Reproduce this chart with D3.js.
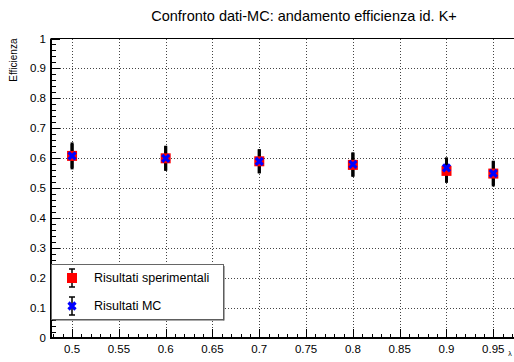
<!DOCTYPE html>
<html>
<head>
<meta charset="utf-8">
<script src="https://cdn.jsdelivr.net/npm/d3@7"></script>
<style>
  body { margin:0; background:#fff; }
  svg { display:block; font-family:"Liberation Sans", Arial, sans-serif; }
  .grid line { stroke:#444; stroke-width:1; stroke-dasharray:1,2; shape-rendering:crispEdges; }
</style>
</head>
<body>
<svg width="514" height="362"></svg>
<script>
const lambda   = [0.5, 0.6, 0.7, 0.8, 0.9, 0.95];
const effExp   = [0.608, 0.600, 0.590, 0.578, 0.558, 0.549];
const errExp   = [0.045, 0.042, 0.040, 0.040, 0.040, 0.043];
const effMC    = [0.608, 0.600, 0.590, 0.580, 0.568, 0.550];
const errMC    = [0.040, 0.040, 0.040, 0.040, 0.035, 0.040];
const xTicks   = [0.5, 0.55, 0.6, 0.65, 0.7, 0.75, 0.8, 0.85, 0.9, 0.95];
const yTicks   = [0, 0.1, 0.2, 0.3, 0.4, 0.5, 0.6, 0.7, 0.8, 0.9, 1];
const legendLabels = ["Risultati sperimentali", "Risultati MC"];

const M = { top:38.5, left:51, bottom:338 };
const svg = d3.select('svg');

const x = d3.scaleLinear().domain([0.4775, 0.9735]).range([M.left, 515.3]);
const y = d3.scaleLinear().domain([0, 1]).range([M.bottom, M.top]);

// title
svg.append('text')
  .attr('x', 304).attr('y', 21)
  .attr('text-anchor', 'middle')
  .attr('font-size', 14.5)
  .text('Confronto dati-MC: andamento efficienza id. K+');

// grid
const grid = svg.append('g').attr('class', 'grid');
grid.selectAll('line.v')
  .data(xTicks)
  .join('line')
    .attr('x1', d => Math.round(x(d)) + 0.5).attr('x2', d => Math.round(x(d)) + 0.5)
    .attr('y1', M.top).attr('y2', M.bottom);
grid.selectAll('line.h')
  .data(yTicks.slice(1, -1))
  .join('line')
    .attr('class', 'h')
    .attr('x1', M.left).attr('x2', 514)
    .attr('y1', d => Math.round(y(d)) + 0.5).attr('y2', d => Math.round(y(d)) + 0.5);

// frame
svg.append('line').attr('x1', M.left).attr('x2', 514).attr('y1', M.top).attr('y2', M.top)
  .attr('stroke', '#000').attr('stroke-width', 1);

// axes (ticks inside)
const yMinor = d3.range(0, 1.0001, 0.02);
const xMinor = d3.range(0.48, 0.975, 0.01);

svg.append('g').attr('transform', `translate(${M.left},0)`)
  .call(d3.axisRight(y).tickValues(yTicks).tickSize(9).tickFormat(''))
  .select('.domain').remove();
svg.append('g').attr('transform', `translate(${M.left},0)`)
  .call(d3.axisRight(y).tickValues(yMinor).tickSize(5).tickFormat(''))
  .select('.domain').remove();
svg.append('line').attr('x1', M.left).attr('x2', M.left).attr('y1', M.top).attr('y2', M.bottom + 1)
  .attr('stroke', '#000').attr('stroke-width', 2);

svg.append('g').attr('transform', `translate(0,${M.bottom})`)
  .call(d3.axisTop(x).tickValues(xTicks).tickSize(9).tickFormat(''))
  .select('.domain').remove();
svg.append('g').attr('transform', `translate(0,${M.bottom})`)
  .call(d3.axisTop(x).tickValues(xMinor).tickSize(4).tickFormat(''))
  .select('.domain').remove();
svg.append('line').attr('x1', M.left).attr('x2', 514).attr('y1', M.bottom).attr('y2', M.bottom)
  .attr('stroke', '#000').attr('stroke-width', 2);

svg.selectAll('.tick line').attr('stroke', '#000').attr('shape-rendering', 'crispEdges');

// tick labels
svg.append('g').selectAll('text')
  .data(yTicks)
  .join('text')
    .attr('x', M.left - 5).attr('y', d => y(d) + 4)
    .attr('text-anchor', 'end').attr('font-size', 11.5)
    .text(d => d3.format('')(d));
svg.append('g').selectAll('text')
  .data(xTicks)
  .join('text')
    .attr('x', d => x(d)).attr('y', M.bottom + 15)
    .attr('text-anchor', 'middle').attr('font-size', 11.5)
    .text(d => d3.format('')(d));

// axis titles
svg.append('text')
  .attr('transform', `translate(17,${M.top}) rotate(-90)`)
  .attr('text-anchor', 'end').attr('font-size', 10)
  .text('Efficienza');
svg.append('text')
  .attr('x', 510).attr('y', 356)
  .attr('text-anchor', 'middle').attr('font-size', 7)
  .text('λ');

// points
function xMark(g, s) {
  g.append('path')
    .attr('d', `M${-s},${-s}L${s},${s}M${-s},${s}L${s},${-s}`)
    .attr('stroke', '#0000ff').attr('stroke-width', 3.2);
}

const pts = svg.append('g');
lambda.forEach((l, i) => {
  pts.append('line')
    .attr('x1', x(l)).attr('x2', x(l))
    .attr('y1', y(effExp[i] + errExp[i])).attr('y2', y(effExp[i] - errExp[i]))
    .attr('stroke', '#000').attr('stroke-width', 3);
  pts.append('line')
    .attr('x1', x(l)).attr('x2', x(l))
    .attr('y1', y(effMC[i] + errMC[i])).attr('y2', y(effMC[i] - errMC[i]))
    .attr('stroke', '#000').attr('stroke-width', 3);
});
lambda.forEach((l, i) => {
  pts.append('rect')
    .attr('x', x(l) - 5).attr('y', y(effExp[i]) - 5)
    .attr('width', 10).attr('height', 10)
    .attr('fill', '#ff0000');
});
lambda.forEach((l, i) => {
  const g = pts.append('g').attr('transform', `translate(${x(l)},${y(effMC[i])})`);
  xMark(g, 3.5);
});

// legend
const lg = svg.append('g');
lg.append('rect')
  .attr('x', 51.5).attr('y', 264.5).attr('width', 172).attr('height', 55)
  .attr('fill', '#fff').attr('stroke', '#666').attr('stroke-width', 1);
lg.append('line').attr('x1', 224).attr('x2', 224).attr('y1', 266).attr('y2', 320.5)
  .attr('stroke', '#555').attr('stroke-width', 1);
lg.append('line').attr('x1', 53).attr('x2', 224).attr('y1', 320).attr('y2', 320)
  .attr('stroke', '#555').attr('stroke-width', 1);

const legY = [278, 306];
legendLabels.forEach((lab, i) => {
  const cy = legY[i];
  lg.append('line').attr('x1', 72).attr('x2', 72).attr('y1', cy - 9).attr('y2', cy + 9)
    .attr('stroke', '#000').attr('stroke-width', 1.5);
  [cy - 9, cy + 9].forEach(yy => lg.append('line')
    .attr('x1', 69).attr('x2', 75).attr('y1', yy).attr('y2', yy)
    .attr('stroke', '#000').attr('stroke-width', 1.5));
  if (i === 0) {
    lg.append('rect').attr('x', 67).attr('y', cy - 5).attr('width', 10).attr('height', 10)
      .attr('fill', '#ff0000');
  } else {
    xMark(lg.append('g').attr('transform', `translate(72,${cy})`), 3.5);
  }
  lg.append('text').attr('x', 94).attr('y', cy + 4)
    .attr('font-size', 12.5).text(lab);
});
</script>
</body>
</html>
